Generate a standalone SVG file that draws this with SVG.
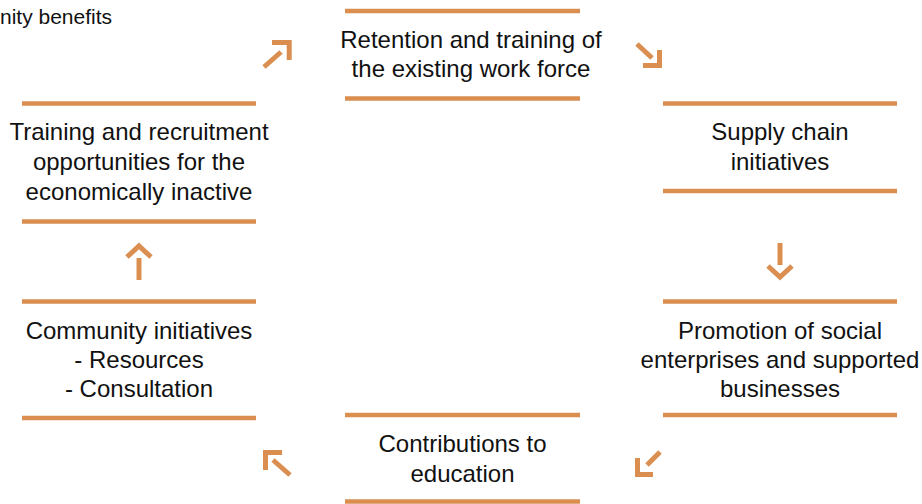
<svg xmlns="http://www.w3.org/2000/svg" width="922" height="504" viewBox="0 0 922 504">
<style>
.bar{stroke:#DA8F50;stroke-width:4.5;fill:none}
.arr{stroke:#DA8F50;stroke-width:5;fill:none;stroke-linecap:butt;stroke-linejoin:miter}
.t{font-family:"Liberation Sans",Arial,sans-serif;font-size:24px;fill:#111;text-anchor:middle}
.s{font-family:"Liberation Sans",Arial,sans-serif;font-size:21px;fill:#111}
</style>
<rect width="922" height="504" fill="#fff"/>
<text class="s" x="0" y="24">nity benefits</text>
<g id="retention">
<line class="bar" x1="345" y1="11" x2="580" y2="11"/>
<line class="bar" x1="345" y1="98.5" x2="580" y2="98.5"/>
<text class="t" x="471" y="48">Retention and training of</text>
<text class="t" x="471" y="77">the existing work force</text>
</g>
<g id="supply">
<line class="bar" x1="663" y1="103.5" x2="897" y2="103.5"/>
<line class="bar" x1="663" y1="191" x2="897" y2="191"/>
<text class="t" x="780" y="140">Supply chain</text>
<text class="t" x="780" y="170">initiatives</text>
</g>
<g id="promotion">
<line class="bar" x1="663" y1="301.5" x2="897" y2="301.5"/>
<line class="bar" x1="663" y1="415" x2="897" y2="415"/>
<text class="t" x="780" y="339">Promotion of social</text>
<text class="t" x="780" y="368">enterprises and supported</text>
<text class="t" x="780" y="397">businesses</text>
</g>
<g id="contributions">
<line class="bar" x1="345" y1="415" x2="580" y2="415"/>
<line class="bar" x1="345" y1="501.5" x2="580" y2="501.5"/>
<text class="t" x="462.5" y="452">Contributions to</text>
<text class="t" x="462.5" y="482">education</text>
</g>
<g id="community">
<line class="bar" x1="22" y1="301.5" x2="256" y2="301.5"/>
<line class="bar" x1="22" y1="418" x2="256" y2="418"/>
<text class="t" x="139" y="339">Community initiatives</text>
<text class="t" x="139" y="368">- Resources</text>
<text class="t" x="139" y="397">- Consultation</text>
</g>
<g id="training">
<line class="bar" x1="22" y1="103.5" x2="256" y2="103.5"/>
<line class="bar" x1="22" y1="221.5" x2="256" y2="221.5"/>
<text class="t" x="139" y="140">Training and recruitment</text>
<text class="t" x="139" y="170">opportunities for the</text>
<text class="t" x="139" y="200">economically inactive</text>
</g>
<g id="connectors">
<line class="arr" x1="264" y1="67" x2="281" y2="52"/>
<polyline class="arr" points="272,42.5 289.2,42.5 289.2,60"/>
<line class="arr" x1="637" y1="44" x2="652" y2="58"/>
<polyline class="arr" points="643,65.5 659.5,65.5 659.5,50"/>
<line class="arr" x1="780" y1="243" x2="780" y2="265"/>
<polyline class="arr" points="768,266 780,277 792,266"/>
<line class="arr" x1="660" y1="452" x2="647" y2="465"/>
<polyline class="arr" points="637.5,458 637.5,474.5 653,474.5"/>
<line class="arr" x1="290" y1="475" x2="273" y2="460"/>
<polyline class="arr" points="265.5,470 265.5,452.5 282,452.5"/>
<line class="arr" x1="139" y1="280" x2="139" y2="258"/>
<polyline class="arr" points="127,257 139,246 151,257"/>
</g>
</svg>
